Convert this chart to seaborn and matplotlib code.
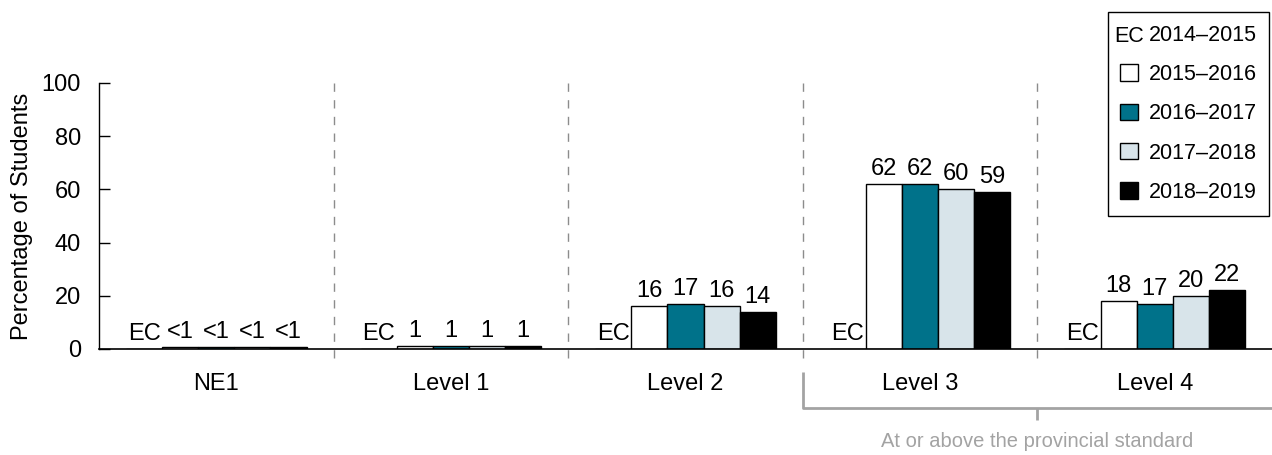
import pandas as pd
import seaborn as sns
from matplotlib import pyplot as plt
from matplotlib.patches import Patch
from matplotlib.text import Text
from matplotlib.legend_handler import HandlerBase

# data
levels = ['NE1', 'Level 1', 'Level 2', 'Level 3', 'Level 4']
years = ['2014–2015', '2015–2016', '2016–2017', '2017–2018', '2018–2019']
values = {
    '2014–2015': [0, 0, 0, 0, 0],
    '2015–2016': [0.8, 1, 16, 62, 18],
    '2016–2017': [0.8, 1, 17, 62, 17],
    '2017–2018': [0.8, 1, 16, 60, 20],
    '2018–2019': [0.8, 1, 14, 59, 22],
}
labels = {
    '2014–2015': ['EC', 'EC', 'EC', 'EC', 'EC'],
    '2015–2016': ['<1', '1', '16', '62', '18'],
    '2016–2017': ['<1', '1', '17', '62', '17'],
    '2017–2018': ['<1', '1', '16', '60', '20'],
    '2018–2019': ['<1', '1', '14', '59', '22'],
}
colors = ['#ffffff', '#ffffff', '#00728a', '#d8e4ea', '#000000']

sns.set_style('white', rc={'text.color': 'black', 'axes.labelcolor': 'black',
                           'xtick.color': 'black', 'ytick.color': 'black',
                           'axes.edgecolor': 'black'})
plt.rcParams['font.family'] = ['Liberation Sans', 'DejaVu Sans']
grey = '#a3a3a3'
fs = 17

df = pd.DataFrame([
    {'level': lv, 'year': yr, 'value': values[yr][i]}
    for yr in years for i, lv in enumerate(levels)
])

# %%
fig = plt.figure(figsize=(12.72, 4.55), dpi=100)
ax = fig.add_axes([0.0778, 0.233, 0.9222, 0.5846])

sns.barplot(data=df, x='level', y='value', hue='year', order=levels,
            hue_order=years, palette=colors, saturation=1, width=0.77,
            edgecolor='black', linewidth=1, legend=False, ax=ax)

for cont, yr in zip(ax.containers, years):
    ax.bar_label(cont, labels=labels[yr], padding=3, fontsize=fs)

ax.set_xlim(-0.5, 4.5)
ax.set_ylim(0, 100)
ax.set_yticks(range(0, 101, 20))
ax.tick_params(axis='y', direction='in', length=8, width=1, pad=13,
               labelsize=fs, left=True)
ax.tick_params(axis='x', length=0, pad=17, labelsize=fs)
ax.set_xlabel('')
ax.set_ylabel('Percentage of Students', fontsize=fs, labelpad=6)
sns.despine(ax=ax)
ax.spines['left'].set_linewidth(1)
ax.spines['bottom'].set_linewidth(1.2)

# dividers between levels
for xb in [0.5, 1.5, 2.5, 3.5]:
    ax.plot([xb, xb], [100, -6], color='#8c8c8c', lw=1, dashes=(6, 6),
            clip_on=False)

# bracket under levels 3 and 4
ax.plot([2.5, 2.5, 4.5], [-8.6, -22.2, -22.2], color=grey, lw=2,
        clip_on=False, solid_capstyle='butt')
ax.plot([3.5, 3.5], [-22.2, -26.7], color=grey, lw=2, clip_on=False,
        solid_capstyle='butt')
ax.text(3.5, -34.6, 'At or above the provincial standard', ha='center',
        va='center', fontsize=14.5, color=grey)


# legend: first entry is the text "EC"
class HandlerEC(HandlerBase):
    def create_artists(self, legend, orig_handle, xdescent, ydescent,
                       width, height, fontsize, trans):
        t = Text(-xdescent + width / 2, -ydescent, 'EC',
                 ha='center', va='baseline', fontsize=fs - 1.5,
                 color='black', transform=trans)
        return [t]


ec_handle = Patch(facecolor='none', edgecolor='none')
handles = [ec_handle] + [Patch(facecolor=c, edgecolor='black', lw=1)
                         for c in colors[1:]]
fig.legend(handles, years, loc='upper right',
           bbox_to_anchor=(0.998, 0.974), fontsize=fs - 1.5, frameon=True,
           fancybox=False, edgecolor='black', framealpha=1,
           handlelength=0.8, handleheight=0.8, handletextpad=0.5,
           labelspacing=0.85, borderpad=0.6, borderaxespad=0,
           handler_map={ec_handle: HandlerEC()})

plt.savefig('out.png', dpi=100)
